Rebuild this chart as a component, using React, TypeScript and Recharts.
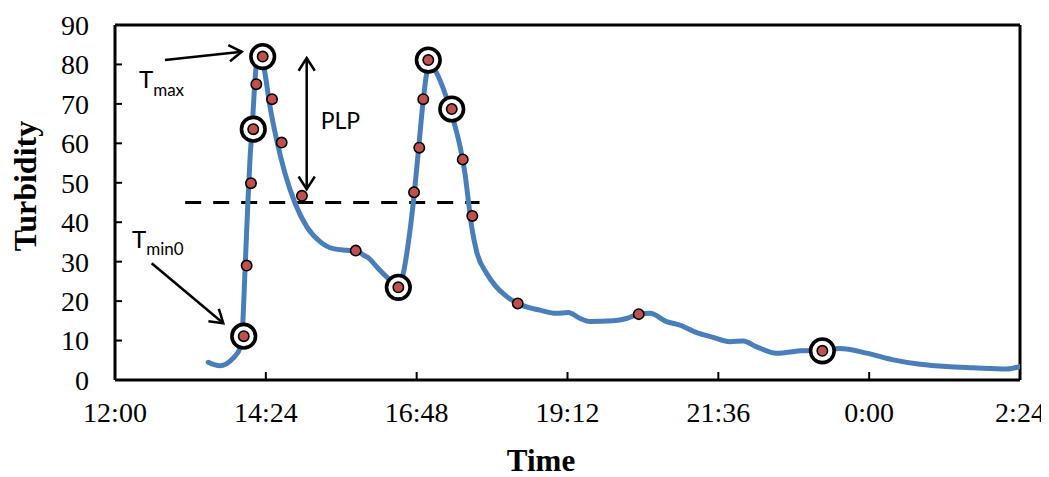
import React from 'react';
import { ComposedChart, Line, Scatter, XAxis, YAxis, ReferenceLine, Label } from 'recharts';

// time in minutes since 0:00 of the first day
const xTicks = [720, 864, 1008, 1152, 1296, 1440, 1584];
const xTickLabels = ['12:00', '14:24', '16:48', '19:12', '21:36', '0:00', '2:24'];
const yTicks = [0, 10, 20, 30, 40, 50, 60, 70, 80, 90];

const curveTimes = [809, 820, 833, 840, 842, 844, 846.7, 849, 851, 853, 855.3, 858.4, 860.5, 863.2, 868, 874.4, 882.3, 891.9, 903, 915.7, 928.4, 941.2, 950.7, 957, 961.8, 969.8, 982.5, 990.5, 995.2, 1000, 1004.8, 1009.6, 1014.3, 1017.6, 1020.7, 1027.1, 1035, 1043, 1049.4, 1054.1, 1057.3, 1060.5, 1065.3, 1074.9, 1082.8, 1092.3, 1104.5, 1125.7, 1141.7, 1152.8, 1163.9, 1173.5, 1195.7, 1208.5, 1220, 1230.8, 1246.7, 1259.4, 1275.3, 1291.2, 1307.1, 1319.8, 1332.6, 1351.7, 1373.9, 1395.3, 1412.2, 1437.6, 1463, 1488.5, 1514, 1539.4, 1571.3, 1584];
const curveValues = [4.5, 3.6, 5.6, 8.5, 14.4, 27, 44, 56.6, 64, 73.5, 80.5, 82.3, 81.5, 77.7, 69.3, 60.8, 52.4, 44.8, 38.9, 35.1, 33.3, 32.9, 32.7, 31.7, 31, 28.7, 25.4, 24, 27, 34.7, 45, 58, 71, 77.8, 80, 77.8, 72.7, 65.9, 59.2, 52.4, 45.6, 38.9, 32.5, 27, 24, 21.5, 19.4, 17.7, 16.9, 17.1, 15.6, 14.8, 15.0, 15.6, 16.7, 16.9, 14.8, 13.9, 12.0, 10.8, 9.7, 9.9, 8.4, 6.8, 7.4, 7.6, 8.0, 6.8, 5.1, 4.0, 3.4, 3.1, 2.8, 3.4];

const sampleTimes = [842.9, 845.7, 849.8, 852, 854.9, 861, 869.9, 879.1, 898.5, 949.8, 990.5, 1005.5, 1010.5, 1014.3, 1019.1, 1041.5, 1052, 1061.1, 1104.5, 1220, 1395.3];
const sampleValues = [11.1, 29, 49.9, 63.6, 75, 82, 71.2, 60.2, 46.7, 32.8, 23.5, 47.6, 58.9, 71.2, 81.1, 68.7, 55.9, 41.6, 19.4, 16.7, 7.4];

const circledTimes = [842.9, 852, 861, 990.5, 1019.1, 1041.5, 1395.3];
const circledValues = [11.1, 63.6, 82, 23.5, 81.1, 68.7, 7.4];

const thresholdValue = 45;
const thresholdStart = 787;
const thresholdEnd = 1068;

const tmaxArrow = [{ x: 767.7, y: 81.1 }, { x: 841, y: 83.2 }];
const tmin0Arrow = [{ x: 755, y: 29.6 }, { x: 823.4, y: 14.4 }];
const plpArrow = [{ x: 903, y: 81.6 }, { x: 903, y: 48.4 }];

const curveData = curveTimes.map((t, i) => ({ t, v: curveValues[i] }));
const sampleData = sampleTimes.map((t, i) => ({ t, v: sampleValues[i] }));
const circledData = circledTimes.map((t, i) => ({ t, v: circledValues[i] }));

const serif = 'Liberation Serif, Times New Roman, serif';
const sans = 'Lato, Open Sans, sans-serif';

function head(x: number, y: number, fromX: number, fromY: number, key: string) {
  const ang = Math.atan2(y - fromY, x - fromX);
  const len = 15;
  const spread = Math.PI / 5.5;
  const a1 = ang + Math.PI - spread;
  const a2 = ang + Math.PI + spread;
  return (
    <polyline
      key={key}
      points={`${x + len * Math.cos(a1)},${y + len * Math.sin(a1)} ${x},${y} ${x + len * Math.cos(a2)},${y + len * Math.sin(a2)}`}
      fill="none"
      stroke="#000"
      strokeWidth={2.5}
    />
  );
}

const arrowShape = (both: boolean) => (p: any) => {
  const { x1, y1, x2, y2 } = p;
  return (
    <g>
      <line x1={x1} y1={y1} x2={x2} y2={y2} stroke="#000" strokeWidth={2.5} />
      {head(x2, y2, x1, y1, 'h2')}
      {both ? head(x1, y1, x2, y2, 'h1') : null}
    </g>
  );
};

const RedDot = (p: any) => (
  <circle cx={p.cx} cy={p.cy} r={5.2} fill="#C0504D" stroke="#000" strokeWidth={1.6} />
);
const Ring = (p: any) => (
  <circle cx={p.cx} cy={p.cy} r={11.8} fill="#fff" stroke="#000" strokeWidth={3.6} />
);

export default function App() {
  return (
    <ComposedChart width={1041} height={469} margin={{ top: 17, right: 29, bottom: 37, left: 0 }}>
      <XAxis
        dataKey="t"
        type="number"
        domain={[720, 1584]}
        ticks={xTicks}
        interval={0}
        allowDataOverflow
        tickFormatter={(v: number) => xTickLabels[xTicks.indexOf(v)]}
        tick={{ fill: '#000', fontSize: 28, fontFamily: serif }}
        tickSize={-8}
        tickMargin={30}
        axisLine={{ stroke: '#000', strokeWidth: 3 }}
        tickLine={{ stroke: '#000', strokeWidth: 2 }}
        height={60}
      >
        <Label
          content={() => (
            <text x={533} y={463} textAnchor="middle" fontFamily={serif} fontWeight="bold" fontSize={31} fill="#000">
              Time
            </text>
          )}
        />
      </XAxis>
      <YAxis
        type="number"
        domain={[0, 90]}
        ticks={yTicks}
        interval={0}
        allowDataOverflow
        tick={{ fill: '#000', fontSize: 28, fontFamily: serif }}
        tickSize={-7}
        tickMargin={33}
        axisLine={{ stroke: '#000', strokeWidth: 3 }}
        tickLine={{ stroke: '#000', strokeWidth: 2 }}
        width={107}
      >
        <Label
          content={() => (
            <text
              x={28}
              y={178}
              transform="rotate(-90, 28, 178)"
              textAnchor="middle"
              fontFamily={serif}
              fontWeight="bold"
              fontSize={32}
              fill="#000"
            >
              Turbidity
            </text>
          )}
        />
      </YAxis>
      <ReferenceLine y={90} stroke="#000" strokeWidth={3} />
      <ReferenceLine x={1584} stroke="#000" strokeWidth={3} />
      <ReferenceLine
        segment={[{ x: thresholdStart, y: thresholdValue }, { x: thresholdEnd, y: thresholdValue }]}
        stroke="#000"
        strokeWidth={3}
        strokeDasharray="16 12"
      />
      <Line
        data={curveData}
        dataKey="v"
        type="monotone"
        stroke="#4A7EBB"
        strokeWidth={5}
        dot={false}
        activeDot={false}
        isAnimationActive={false}
        strokeLinecap="round"
      />
      <Scatter data={circledData} dataKey="v" shape={Ring} isAnimationActive={false} />
      <Scatter data={sampleData} dataKey="v" shape={RedDot} isAnimationActive={false} />
      <ReferenceLine segment={tmaxArrow} shape={arrowShape(false)} />
      <ReferenceLine segment={tmin0Arrow} shape={arrowShape(false)} />
      <ReferenceLine segment={plpArrow} shape={arrowShape(true)} />
      <ReferenceLine
        segment={[{ x: 720, y: 0 }, { x: 720, y: 0 }]}
        stroke="none"
        label={{
          content: () => (
            <g fontFamily={sans} fill="#000">
              <text x={131} y={80.3} fontSize={24}>
                T<tspan dy={7.7} fontSize={17}>max</tspan>
              </text>
              <text x={124} y={240.3} fontSize={24}>
                T<tspan dy={6.7} fontSize={17}>min0</tspan>
              </text>
              <text x={312.7} y={121.3} fontSize={23}>
                PLP
              </text>
            </g>
          ),
        }}
      />
    </ComposedChart>
  );
}
